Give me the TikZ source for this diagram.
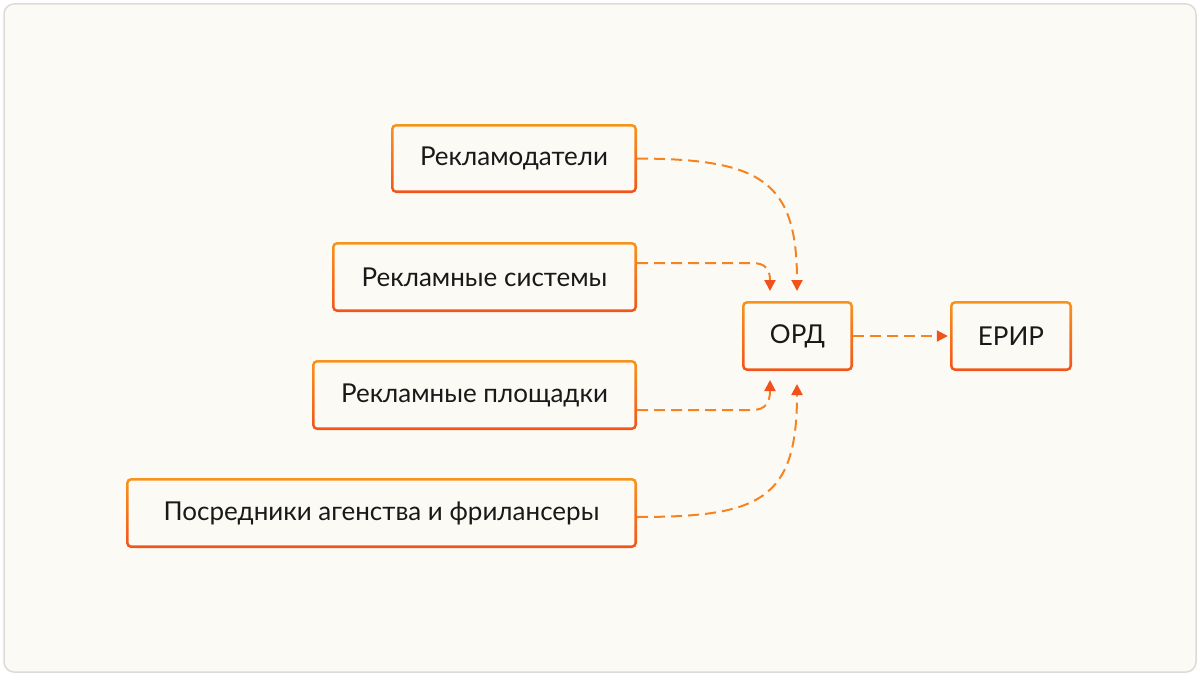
\documentclass[tikz,border=0pt]{standalone}
\usepackage{fontspec}
\setmainfont{Lato}
\usetikzlibrary{arrows.meta,calc}
\definecolor{bg}{HTML}{FCFAF5}
\definecolor{frame}{HTML}{DDDBD7}
\definecolor{ortop}{HTML}{F7941D}
\definecolor{orbot}{HTML}{F2541B}
\definecolor{lineor}{HTML}{F5831F}
\definecolor{tipred}{HTML}{F2511A}
\tikzset{
  gbox/.style={minimum height=70pt, font=\fontsize{26}{30}\selectfont, text=black!90, inner sep=0pt},
  link/.style={draw=lineor, line width=2pt, dash pattern=on 11pt off 6pt, -{Triangle[length=11pt,width=11pt,fill=tipred,color=tipred]}}
}
\newcommand{\gradbox}[5]{% name, x1, y1, x2, y2
  \shade[top color=ortop, bottom color=orbot, rounded corners=5pt] (#2,#3) rectangle (#4,#5);
  \fill[bg, rounded corners=3pt] ($(#2,#3)+(2.6,2.6)$) rectangle ($(#4,#5)+(-2.6,-2.6)$);
  \coordinate (#1) at ($(#2,#3)!0.5!(#4,#5)$);
}
\begin{document}
\begin{tikzpicture}[x=1pt,y=-1pt]
\useasboundingbox (0,0) rectangle (1200,677);
\draw[frame, fill=bg, line width=1.5pt, rounded corners=10pt] (4,4) rectangle (1196,672);
\gradbox{b1}{391}{124}{637}{193}
\gradbox{b2}{332}{242}{637}{312}
\gradbox{b3}{312}{360}{637}{430}
\gradbox{b4}{126}{478}{637}{548}
\gradbox{ord}{742}{301}{853}{371}
\gradbox{erir}{950}{301}{1072}{371}
\node[gbox, minimum width=246pt] (n1) at (b1) {Рекламодатели};
\node[gbox, minimum width=305pt] (n2) at (b2) {Рекламные системы};
\node[gbox, minimum width=325pt] (n3) at (b3) {Рекламные площадки};
\node[gbox, minimum width=511pt] (n4) at (b4) {Посредники агенства и фрилансеры};
\node[gbox, minimum width=111pt] (n5) at (ord) {ОРД};
\node[gbox, minimum width=122pt] (n6) at (erir) {ЕРИР};
\coordinate (t1) at (797,291);
\coordinate (t2) at (770,291);
\coordinate (t3) at (770,380);
\coordinate (t4) at (797,384);
\draw[link] (n1.east) .. controls (760,159) and (797,180) .. (t1);
\draw[link] ($(n2.east)+(0,-14)$) -- (752,263) .. controls (766,263) and (770,270) .. (t2);
\draw[link] ($(n3.east)+(0,15)$) -- (752,410) .. controls (766,410) and (770,402) .. (t3);
\draw[link] ($(n4.east)+(0,4)$) .. controls (760,517) and (797,500) .. (t4);
\draw[link] (n5.east) -- ([xshift=-2pt]n6.west);
\end{tikzpicture}
\end{document}
